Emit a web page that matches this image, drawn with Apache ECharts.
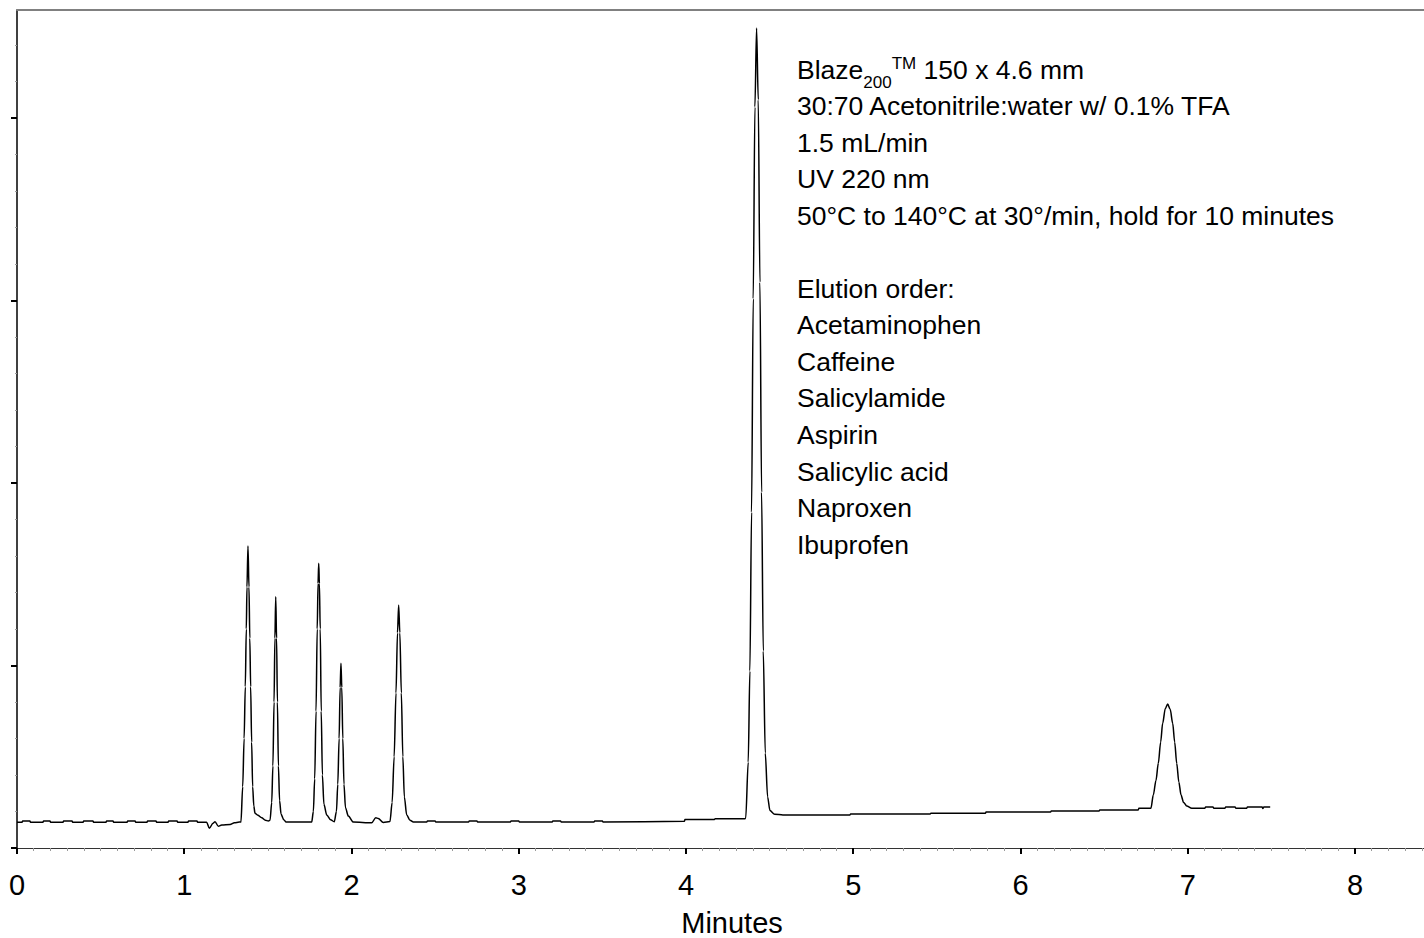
<!DOCTYPE html>
<html><head><meta charset="utf-8">
<script src="https://cdn.jsdelivr.net/npm/echarts@6/dist/echarts.min.js"></script>
<style>html,body{margin:0;padding:0;background:#fff}#c{width:1424px;height:938px}</style>
</head><body><div id="c"></div>
<script>
const FONT = '"Liberation Sans", Arial, Helvetica, sans-serif';

// x tick labels (minutes) and y major tick positions (detector units, unlabeled)
const xTickLabels = [0, 1, 2, 3, 4, 5, 6, 7, 8];
const yMajorTicks = [0, 100, 200, 300, 400];

// chromatogram trace: [time (min), signal]
const baselineStart = [
  [0,14.1],[0.03,14.1],[0.034,14.8],[0.077,14.8],[0.081,14.1],
  [0.155,14.1],[0.159,14.8],[0.197,14.8],[0.201,14.1],
  [0.275,14.1],[0.279,14.8],[0.329,14.8],[0.333,14.1],
  [0.395,14.1],[0.399,14.8],[0.454,14.8],[0.458,14.1],
  [0.532,14.1],[0.536,14.8],[0.574,14.8],[0.578,14.1],
  [0.658,14.1],[0.662,14.8],[0.706,14.8],[0.710,14.1],
  [0.777,14.1],[0.781,14.8],[0.831,14.8],[0.835,14.1],
  [0.903,14.1],[0.907,14.8],[0.957,14.8],[0.961,14.1],
  [1.022,14.1],[1.026,14.8],[1.076,14.8],[1.080,14.1],
  [1.134,14.1],[1.150,10.8],[1.172,13.6],[1.184,14.4],[1.204,11.9],[1.224,12.6],[1.274,12.9],[1.30,13.8],[1.329,14.2]
];
const peaksEarly = [
  [1.339,14.2],[1.3495,33.6],[1.358,60],[1.365,88.4],[1.371,120],[1.375,143],[1.381,165.5],[1.387,143],[1.392,115],[1.397,88.4],[1.403,58],[1.409,33.6],[1.416,23],[1.423,19],[1.44,18],[1.463,16.6],[1.485,15.2],[1.503,14.8],
  [1.513,15.2],[1.523,25],[1.530,45],[1.537,80],[1.542,115],[1.547,137.7],[1.552,115],[1.557,80],[1.563,45],[1.570,26],[1.579,18.5],[1.595,15.5],[1.609,14.2],
  [1.70,14.2],[1.762,14.2],
  [1.772,20],[1.780,38],[1.788,75],[1.795,120],[1.800,145],[1.804,156],[1.808,145],[1.813,120],[1.819,75],[1.826,40],[1.835,24],[1.852,18.1],[1.875,15.5],[1.897,14.4],
  [1.910,20],[1.918,35],[1.926,60],[1.932,88],[1.937,101.2],[1.942,88],[1.948,60],[1.955,35],[1.964,22],[1.981,17.5],[2.011,14.2],
  [2.121,13.8],[2.145,16.6],[2.160,16.2],[2.190,14.0],
  [2.230,14.5],[2.243,25],[2.255,50],[2.266,85],[2.275,118],[2.282,133.2],[2.289,118],[2.298,85],[2.307,50],[2.316,28],[2.330,18.1],[2.350,15.2],[2.370,14.2]
];
const baselineMid = [
  [2.45,14.2],[2.454,14.8],[2.50,14.8],[2.504,14.2],
  [2.70,14.2],[2.704,14.8],[2.75,14.8],[2.754,14.2],
  [2.95,14.2],[2.954,14.8],[3.00,14.8],[3.004,14.2],
  [3.20,14.2],[3.204,14.8],[3.25,14.8],[3.254,14.2],
  [3.45,14.2],[3.454,14.8],[3.50,14.8],[3.504,14.2],
  [3.99,14.6],[3.994,15.6],[4.17,15.6],[4.174,16.0],[4.35,16.0]
];
const peakMain = [
  [4.357,16.3],[4.372,47],[4.382,97],[4.392,184],[4.402,301],[4.412,406],[4.422,449.3],[4.432,410],[4.442,310],[4.452,195],[4.462,108],[4.474,52],[4.488,28],[4.502,20.5],[4.53,18.5],[4.58,18.1]
];
const baselineLate = [
  [4.62,18.1],[4.98,18.1],[4.984,18.6],[5.46,18.6],[5.464,19.0],[5.79,19.0],[5.794,19.7],[6.18,19.7],[6.184,20.3],[6.47,20.3],[6.474,20.8],[6.704,20.8],[6.708,21.8],[6.780,21.8]
];
const peakLast = [
  [6.794,29],[6.810,37],[6.824,46.4],[6.838,58],[6.850,68.3],[6.866,76.5],[6.880,78.9],[6.895,76],[6.910,68.3],[6.922,58],[6.934,46.4],[6.947,36],[6.960,29],[6.975,25],[6.994,23],[7.024,21.8]
];
const baselineEnd = [
  [7.103,21.8],[7.107,22.5],[7.151,22.5],[7.155,21.8],[7.223,21.8],[7.227,22.5],[7.283,22.5],[7.287,21.8],
  [7.353,21.8],[7.357,22.5],[7.412,22.5],[7.445,22.5],[7.449,21.6],[7.455,22.5],[7.493,22.5]
];

// annotation text
const columnName = { main: 'Blaze', sub: '200', sup: 'TM', rest: ' 150 x 4.6 mm' };
const annotationLines = [
  '30:70 Acetonitrile:water w/ 0.1% TFA',
  '1.5 mL/min',
  'UV 220 nm',
  '50\u00B0C to 140\u00B0C at 30\u00B0/min, hold for 10 minutes',
  '',
  'Elution order:',
  'Acetaminophen',
  'Caffeine',
  'Salicylamide',
  'Aspirin',
  'Salicylic acid',
  'Naproxen',
  'Ibuprofen'
];

const trace = [].concat(baselineStart, peaksEarly, baselineMid, peakMain, baselineLate, peakLast, baselineEnd);

const X_MAX = 8.4126, Y_MAX = 459.2;
const xMinor = [];
for (let i = 1; i <= 84; i++) { if (i % 10) xMinor.push(i / 10); }
const yMinor = [];
for (let v = 20; v < Y_MAX; v += 20) { if (v % 100) yMinor.push(v); }

const TX = 797, TY0 = 69.5, TDY = 36.55, FS = 26.5, AXFS = 29;
const graphics = [{
  type: 'text', x: TX, y: TY0,
  style: {
    text: '{m|' + columnName.main + '}{sub|' + columnName.sub + '}{sup|' + columnName.sup + '}{m|' + columnName.rest + '}',
    rich: {
      m: { fontSize: FS, lineHeight: 36, fontFamily: FONT, fill: '#000' },
      sub: { fontSize: 17, lineHeight: 10, verticalAlign: 'middle', padding: [26, 0, 0, 0], fontFamily: FONT, fill: '#000' },
      sup: { fontSize: 17, lineHeight: 10, verticalAlign: 'middle', padding: [0, 0, 12, 0], fontFamily: FONT, fill: '#000' }
    },
    align: 'left', verticalAlign: 'middle'
  }
}];
annotationLines.forEach((t, i) => {
  if (!t) return;
  graphics.push({
    type: 'text', x: TX, y: TY0 + TDY * (i + 1),
    style: { text: t, fontSize: FS, fontFamily: FONT, fill: '#000', align: 'left', verticalAlign: 'middle' }
  });
});

const chart = echarts.init(document.getElementById('c'), null, { renderer: 'svg' });
chart.setOption({
  animation: false,
  backgroundColor: '#fff',
  grid: { left: 17, right: 0, top: 10, bottom: 90, containLabel: false, outerBoundsMode: 'none' },
  xAxis: [
    {
      type: 'value', min: 0, max: X_MAX, position: 'bottom',
      axisLine: { show: true, onZero: false, lineStyle: { color: '#333', width: 1 } },
      axisTick: { show: true, customValues: xTickLabels, length: 6, lineStyle: { color: '#000', width: 2 } },
      axisLabel: { show: true, customValues: xTickLabels, fontSize: AXFS, color: '#000', fontFamily: FONT, margin: 22 },
      splitLine: { show: false },
      name: 'Minutes', nameLocation: 'middle', nameGap: 60,
      nameTextStyle: { fontSize: AXFS, lineHeight: 29, color: '#000', fontFamily: FONT, padding: [0, 0, 0, 23] }
    },
    {
      type: 'value', min: 0, max: X_MAX, position: 'bottom',
      axisLine: { show: false, onZero: false },
      axisTick: { show: true, customValues: xMinor, length: 3, lineStyle: { color: '#9a9a9a', width: 1 } },
      axisLabel: { show: false }, splitLine: { show: false }
    },
    {
      type: 'value', min: 0, max: X_MAX, position: 'top',
      axisLine: { show: true, onZero: false, lineStyle: { color: '#808080', width: 2 } },
      axisTick: { show: false }, axisLabel: { show: false }, splitLine: { show: false }
    }
  ],
  yAxis: [
    {
      type: 'value', min: 0, max: Y_MAX, position: 'left',
      axisLine: { show: true, onZero: false, lineStyle: { color: '#000', width: 1.5 } },
      axisTick: { show: true, customValues: yMajorTicks, length: 6, lineStyle: { color: '#000', width: 2 } },
      axisLabel: { show: false }, splitLine: { show: false }
    },
    {
      type: 'value', min: 0, max: Y_MAX, position: 'left',
      axisLine: { show: false, onZero: false },
      axisTick: { show: true, customValues: yMinor, length: 2, lineStyle: { color: '#9a9a9a', width: 1 } },
      axisLabel: { show: false }, splitLine: { show: false }
    }
  ],
  series: [{
    type: 'line', xAxisIndex: 0, yAxisIndex: 0,
    data: trace, showSymbol: false, symbol: 'none',
    smooth: 0.3, smoothMonotone: 'x',
    lineStyle: { color: '#000', width: 1.5 },
    silent: true
  }],
  graphic: { elements: graphics }
});
</script>
</body></html>
